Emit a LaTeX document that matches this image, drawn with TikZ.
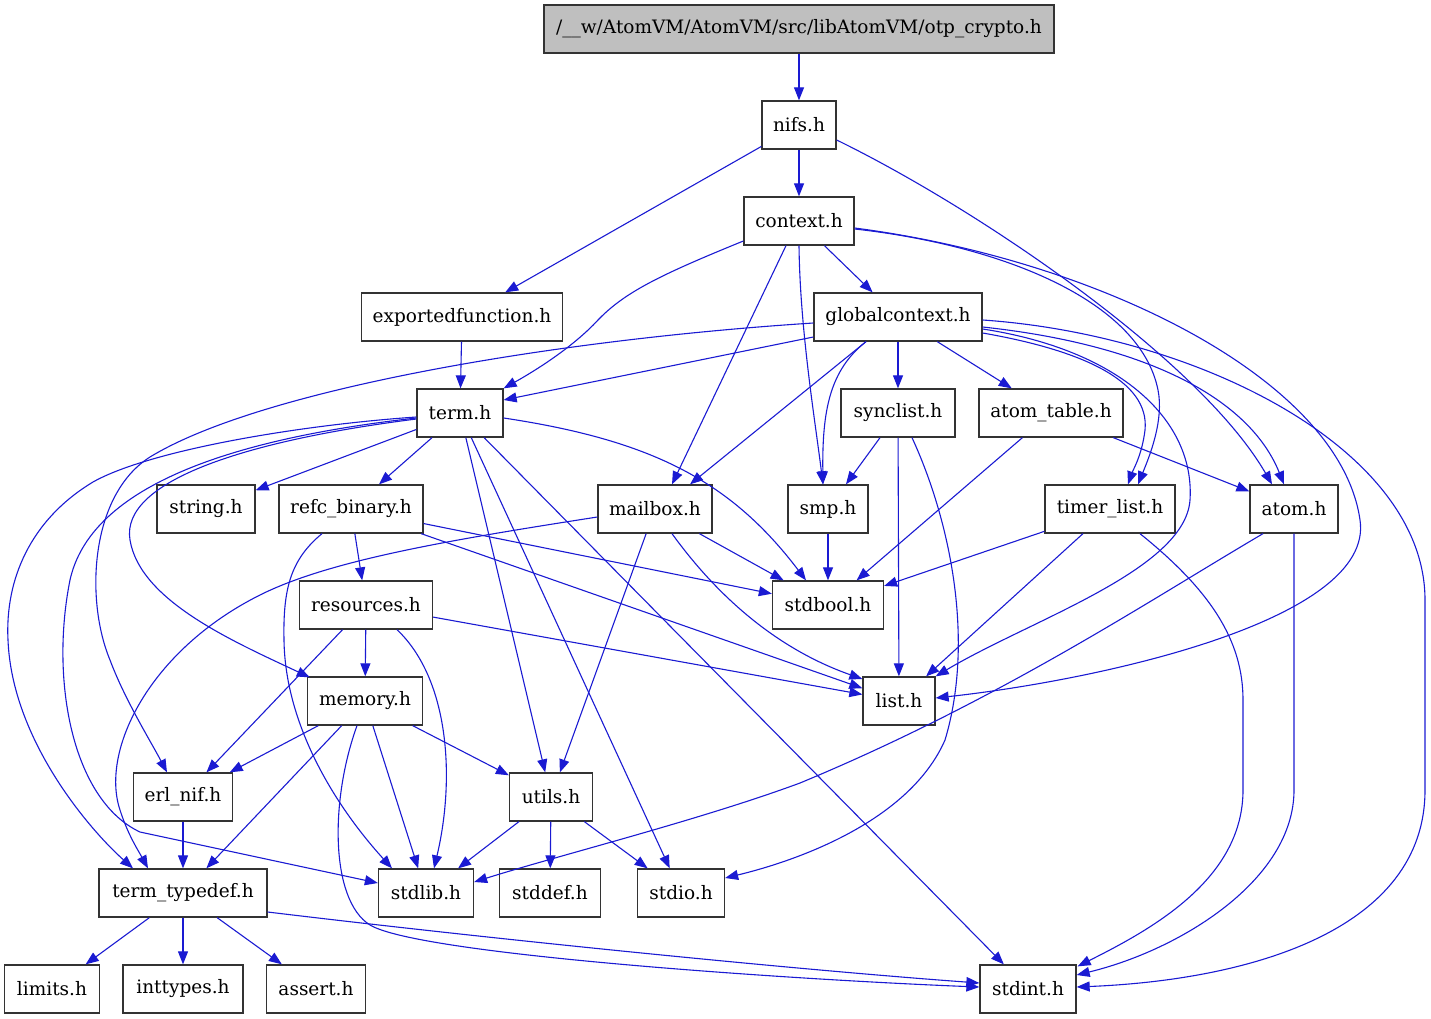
\documentclass[tikz,border=0pt]{standalone}
\usepackage{fontspec}
\setmainfont{DejaVu Serif}
\usepackage{tikz}
\usetikzlibrary{arrows.meta,calc}
\definecolor{IncBlue}{HTML}{1A1AD2}
\definecolor{IncFrame}{HTML}{333333}
\definecolor{IncGrey}{HTML}{BFBFBF}
\tikzset{
  inc/.style={-{Triangle[length=13pt,width=10pt]}, line width=1.1pt, draw=IncBlue},
  hfile/.style={draw=IncFrame, fill=white, line width=1.3pt, minimum height=48pt,
                inner sep=0pt, font=\fontsize{18.5}{22}\selectfont},
  rootfile/.style={hfile, fill=IncGrey},
}

\begin{document}
\begin{tikzpicture}[x=1pt,y=-1pt]
    \useasboundingbox (0,0) rectangle (1431,1019);
    \node[rootfile,minimum width=510] (root) at (799,29) {/\_\_w/AtomVM/AtomVM/src/libAtomVM/otp\_crypto.h};
    \node[hfile,minimum width=74] (nifs) at (799,125) {nifs.h};
    \node[hfile,minimum width=110] (context) at (799,221) {context.h};
    \node[hfile,minimum width=201] (exportedfn) at (462,317) {exportedfunction.h};
    \node[hfile,minimum width=168] (globalcontext) at (898,317) {globalcontext.h};
    \node[hfile,minimum width=86] (term) at (460,413) {term.h};
    \node[hfile,minimum width=114] (synclist) at (898,413) {synclist.h};
    \node[hfile,minimum width=144] (atomtable) at (1051,413) {atom\_table.h};
    \node[hfile,minimum width=98] (string) at (206,509) {string.h};
    \node[hfile,minimum width=144] (refcbinary) at (351,509) {refc\_binary.h};
    \node[hfile,minimum width=114] (mailbox) at (655,509) {mailbox.h};
    \node[hfile,minimum width=80] (smp) at (828,509) {smp.h};
    \node[hfile,minimum width=130] (timerlist) at (1110,509) {timer\_list.h};
    \node[hfile,minimum width=88] (atom) at (1294,509) {atom.h};
    \node[hfile,minimum width=133] (resources) at (366,605) {resources.h};
    \node[hfile,minimum width=111] (stdbool) at (828,605) {stdbool.h};
    \node[hfile,minimum width=115] (memory) at (365,701) {memory.h};
    \node[hfile,minimum width=72] (list) at (899,701) {list.h};
    \node[hfile,minimum width=99] (erlnif) at (183,797) {erl\_nif.h};
    \node[hfile,minimum width=83] (utils) at (551,797) {utils.h};
    \node[hfile,minimum width=168] (termtypedef) at (183,893) {term\_typedef.h};
    \node[hfile,minimum width=95] (stdlib) at (426,893) {stdlib.h};
    \node[hfile,minimum width=101] (stddef) at (550,893) {stddef.h};
    \node[hfile,minimum width=87] (stdio) at (681,893) {stdio.h};
    \node[hfile,minimum width=95] (limits) at (52,989) {limits.h};
    \node[hfile,minimum width=120] (inttypes) at (183,989) {inttypes.h};
    \node[hfile,minimum width=99] (assert) at (316,989) {assert.h};
    \node[hfile,minimum width=96] (stdint) at (1028,989) {stdint.h};

    \draw[inc] (root) -- (nifs);
    \draw[inc] (nifs) -- (context);
    \draw[inc] (nifs) -- (exportedfn);
    \draw[inc] ($(nifs.east)+(0,15)$) .. controls (980,210) and (1200,360) .. ($(atom.north)+(-22,0)$);
    \draw[inc] ($(context.west)+(0,20)$) .. controls (660,275) and (625,292) .. (598,320)
      .. controls (575,345) and (540,368) .. (term.north east);
    \draw[inc] ($(context.south)+(-13,0)$) -- ($(mailbox.north)+(17,0)$);
    \draw[inc] (context.south) .. controls (800,330) and (815,420) .. ($(smp.north)+(-5,0)$);
    \draw[inc] (context) -- (globalcontext);
    \draw[inc] ($(context.east)+(0,8)$) .. controls (1000,245) and (1140,300) .. (1158,390)
      .. controls (1164,420) and (1150,455) .. ($(timerlist.north)+(28,0)$);
    \draw[inc] ($(context.east)+(0,7)$) .. controls (1100,260) and (1340,380) .. (1360,520)
      .. controls (1375,620) and (1100,680) .. ($(list.east)+(0,-3)$);
    \draw[inc] (exportedfn) -- (term);
    \draw[inc] ($(globalcontext.west)+(0,20)$) -- ($(term.east)+(0,-13)$);
    \draw[inc] ($(globalcontext.west)+(0,6)$) .. controls (550,340) and (260,390) .. (150,457)
      .. controls (90,495) and (85,600) .. (110,660)
      .. controls (125,700) and (150,740) .. ($(erlnif.north)+(-16,0)$);
    \draw[inc] ($(globalcontext.south)+(-32,0)$) -- ($(mailbox.north)+(35,0)$);
    \draw[inc] ($(globalcontext.south)+(-32,0)$) .. controls (830,370) and (822,410) .. ($(smp.north)+(-5,0)$);
    \draw[inc] (globalcontext) -- (synclist);
    \draw[inc] (globalcontext) -- (atomtable);
    \draw[inc] ($(globalcontext.east)+(0,16)$) .. controls (1080,350) and (1150,380) .. (1145,430)
      .. controls (1142,455) and (1133,470) .. ($(timerlist.north)+(18,0)$);
    \draw[inc] ($(globalcontext.east)+(0,12)$) .. controls (1120,350) and (1195,420) .. (1190,500)
      .. controls (1185,570) and (1030,620) .. (list.north east);
    \draw[inc] ($(globalcontext.east)+(0,10)$) .. controls (1150,345) and (1250,400) .. ($(atom.north)+(-10,0)$);
    \draw[inc] ($(globalcontext.east)+(0,3)$) .. controls (1200,335) and (1425,450) .. (1425,600)
      -- (1425,790) .. controls (1425,930) and (1250,980) .. ($(stdint.east)+(0,-2)$);
    \draw[inc] (term) -- (string);
    \draw[inc] (term) -- (refcbinary);
    \draw[inc] ($(term.east)+(0,5)$) .. controls (650,440) and (730,480) .. ($(stdbool.north)+(-22,0)$);
    \draw[inc] ($(term.west)+(0,6)$) .. controls (250,440) and (120,480) .. (130,540)
      .. controls (140,600) and (230,640) .. ($(memory.north west)+(3,1)$);
    \draw[inc] ($(term.west)+(0,4)$) .. controls (300,425) and (150,450) .. (93,482)
      .. controls (30,520) and (5,580) .. (8,640)
      .. controls (12,740) and (90,830) .. ($(termtypedef.north)+(-50,0)$);
    \draw[inc] ($(term.west)+(0,5)$) .. controls (220,440) and (90,490) .. (70,580)
      .. controls (50,680) and (72,800) .. (140,832) -- ($(stdlib.west)+(0,-10)$);
    \draw[inc] (term) -- (utils);
    \draw[inc] (term) -- (stdio);
    \draw[inc] (term) -- (stdint);
    \draw[inc] (synclist) -- (smp);
    \draw[inc] (synclist) -- (list);
    \draw[inc] ($(synclist.south)+(14,0)$) .. controls (950,520) and (975,640) .. (945,740)
      .. controls (910,820) and (800,860) .. ($(stdio.east)+(0,-15)$);
    \draw[inc] (atomtable) -- (atom);
    \draw[inc] (atomtable) -- (stdbool);
    \draw[inc] (refcbinary) -- (resources);
    \draw[inc] (refcbinary) -- (stdbool);
    \draw[inc] (refcbinary) -- (list);
    \draw[inc] ($(refcbinary.south)+(-29,0)$) .. controls (290,560) and (283,590) .. (284,640)
      .. controls (285,720) and (330,800) .. ($(stdlib.north)+(-34,0)$);
    \draw[inc] ($(mailbox.west)+(0,8)$) .. controls (450,540) and (330,560) .. (260,595)
      .. controls (150,650) and (100,750) .. (120,810)
      .. controls (128,835) and (138,850) .. ($(termtypedef.north)+(-35,0)$);
    \draw[inc] (mailbox) -- (stdbool);
    \draw[inc] ($(mailbox.south)+(17,0)$) .. controls (720,600) and (780,650) .. ($(list.west)+(0,-22)$);
    \draw[inc] (mailbox) -- (utils);
    \draw[inc] (smp) -- (stdbool);
    \draw[inc] (timerlist) -- (stdbool);
    \draw[inc] (timerlist) -- (list);
    \draw[inc] ($(timerlist.south)+(30,0)$) .. controls (1210,590) and (1243,640) .. (1243,700)
      -- (1243,790) .. controls (1243,880) and (1150,930) .. ($(stdint.north east)+(1,2)$);
    \draw[inc] ($(atom.south)+(-31,0)$) .. controls (1150,600) and (1000,700) .. (800,783)
      .. controls (700,820) and (560,855) .. ($(stdlib.east)+(0,-11)$);
    \draw[inc] (atom.south) -- (1294,790) .. controls (1294,880) and (1180,950) .. ($(stdint.east)+(0,-14)$);
    \draw[inc] (resources) -- (memory);
    \draw[inc] (resources) -- (erlnif);
    \draw[inc] ($(resources.south)+(31,0)$) .. controls (450,680) and (455,780) .. ($(stdlib.north)+(8,0)$);
    \draw[inc] (resources) -- (list);
    \draw[inc] (memory) -- (erlnif);
    \draw[inc] (memory) -- (termtypedef);
    \draw[inc] (memory) -- (stdlib);
    \draw[inc] (memory) -- (utils);
    \draw[inc] ($(memory.south)+(-8,0)$) .. controls (330,800) and (330,900) .. (370,925)
      .. controls (420,955) and (800,980) .. ($(stdint.west)+(0,-2)$);
    \draw[inc] (erlnif) -- (termtypedef);
    \draw[inc] (utils) -- (stdlib);
    \draw[inc] (utils) -- (stddef);
    \draw[inc] (utils) -- (stdio);
    \draw[inc] (termtypedef) -- (limits);
    \draw[inc] (termtypedef) -- (inttypes);
    \draw[inc] (termtypedef) -- (assert);
    \draw[inc] ($(termtypedef.east)+(0,19)$) .. controls (500,940) and (800,970) .. ($(stdint.west)+(0,-6)$);
  \end{tikzpicture}
\end{document}
